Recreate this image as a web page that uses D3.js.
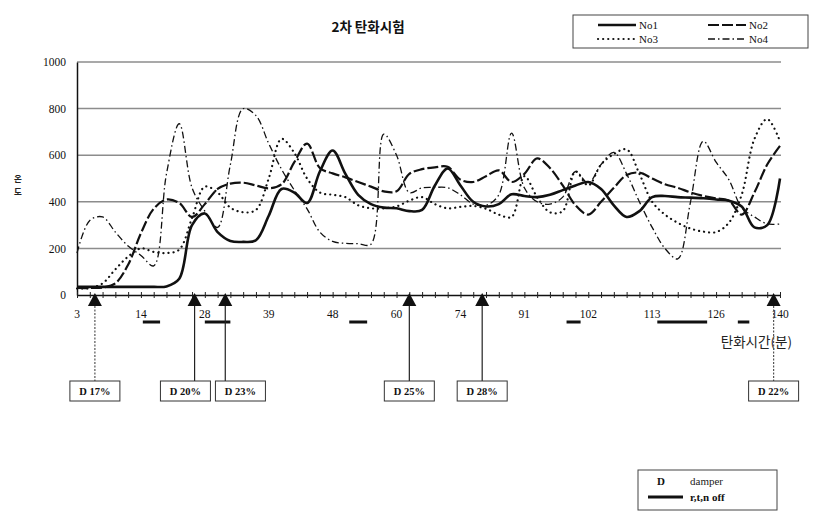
<!DOCTYPE html>
<html>
<head>
<meta charset="utf-8">
<script src="https://cdn.jsdelivr.net/npm/d3@7"></script>
<style>
  html, body { margin: 0; padding: 0; background: #fff; }
  svg { display: block; }
  .serif { font-family: "Liberation Serif", "DejaVu Serif", serif; }
  .kr { font-family: "Noto Sans CJK KR", "Noto Sans", sans-serif; }
</style>
</head>
<body>
<svg id="chart" width="834" height="529"></svg>
<script>
// Readings are taken at irregular minutes; the axis labels every 5th reading.
const tickLabels = [3, 14, 28, 39, 48, 60, 74, 91, 102, 113, 126, 140];
const labelEvery = 5;

// Temperature readings per thermocouple (one value per reading)
const no1 = [35,35,35,35,35,35,35,37,70,300,350,270,232,228,235,340,455,440,395,530,
             620,520,430,390,375,372,360,365,470,543,470,400,380,390,432,425,420,430,450,470,
             485,455,385,335,360,420,425,420,418,415,410,405,380,290,300,500];
const no2 = [30,30,32,50,130,265,370,410,395,335,390,455,478,482,470,458,475,570,650,545,
             522,505,485,465,445,445,520,540,548,550,495,485,510,535,485,520,586,545,470,385,
             345,400,460,515,525,500,475,460,440,425,415,405,345,440,560,640];
const no3 = [28,30,50,110,165,200,185,180,195,330,465,440,375,355,365,500,670,610,500,440,
             430,420,385,372,372,380,405,420,390,372,378,382,370,345,335,510,420,355,360,530,
             470,560,605,625,520,400,345,310,285,272,270,310,430,670,755,660];
const no4 = [180,320,335,270,210,170,125,520,735,460,360,290,560,800,770,650,540,450,370,270,
             230,222,220,218,690,600,440,460,462,460,430,390,385,430,695,460,400,390,420,530,
             480,560,612,520,400,290,200,155,400,660,570,495,375,335,305,305];

// Damper changes (reading position) and their settings
const damperAt = [1.4, 9.2, 11.6, 26, 31.7, 54.5];
const damperPct = ["17%", "20%", "23%", "25%", "28%", "22%"];
const damperDashed = [true, false, false, false, false, true];

// Periods with r, t, n switched off (reading positions)
const offPeriods = [[5.15, 6.5], [10, 12], [21.3, 22.7], [38.3, 39.4], [45.4, 49.3], [51.7, 52.6]];

const yTicks = [0, 200, 400, 600, 800, 1000];

const seriesNames = ["No1", "No2", "No3", "No4"];
const seriesData = [no1, no2, no3, no4];
const seriesStyle = [
  { width: 2.6, dash: null, cap: "butt" },
  { width: 2.2, dash: "11,3", cap: "butt" },
  { width: 2.2, dash: "0.1,5", cap: "round" },
  { width: 1.3, dash: "7,3,1.5,3", cap: "butt" }
];

const svg = d3.select("#chart");
svg.append("rect").attr("width", 834).attr("height", 529).attr("fill", "#fff");

const nPts = no1.length;
const x = d3.scaleLinear().domain([0, nPts - 1]).range([77, 780]);
const y = d3.scaleLinear().domain([0, 1000]).range([295, 62]);

// Title
svg.append("text").attr("class", "kr")
  .attr("x", 368).attr("y", 32).attr("text-anchor", "middle")
  .attr("font-size", 13.5).attr("font-weight", "bold").attr("fill", "#111")
  .text("2차 탄화시험");

// Horizontal gridlines
svg.append("g").selectAll("line").data(yTicks.filter(d => d > 0)).join("line")
  .attr("x1", 77).attr("x2", 781)
  .attr("y1", d => y(d)).attr("y2", d => y(d))
  .attr("stroke", "#8c8c8c").attr("stroke-width", 1.5);

// Y axis
const yAxis = svg.append("g").attr("transform", "translate(77,0)")
  .call(d3.axisLeft(y).tickValues(yTicks).tickFormat(d3.format("d")).tickSize(0).tickPadding(11));
yAxis.select(".domain").attr("stroke", "#111").attr("stroke-width", 1.5);
yAxis.selectAll("text").attr("class", "serif").attr("font-size", 11.5).attr("fill", "#111");

// Y axis title, stacked vertically
svg.append("text").attr("class", "kr")
  .attr("x", 18).attr("y", 182).attr("text-anchor", "middle")
  .attr("font-size", 8.5).attr("font-weight", "bold").attr("fill", "#222").text("온");
svg.append("text").attr("class", "kr")
  .attr("x", 18).attr("y", 195).attr("text-anchor", "middle")
  .attr("font-size", 8.5).attr("font-weight", "bold").attr("fill", "#222").text("도");

// X axis: a tick at every reading, a label at every 5th
const xAxis = svg.append("g").attr("transform", `translate(0,${y(0)})`)
  .call(d3.axisBottom(x).tickValues(d3.range(nPts)).tickSizeInner(4).tickSizeOuter(0)
    .tickFormat(() => ""));
xAxis.select(".domain").attr("stroke", "#111").attr("stroke-width", 1.5);
xAxis.selectAll(".tick line").attr("y1", -3).attr("y2", 3).attr("stroke", "#222");

svg.append("g").selectAll("text").data(tickLabels).join("text")
  .attr("class", "serif")
  .attr("x", (d, i) => x(i * labelEvery)).attr("y", 318)
  .attr("text-anchor", "middle").attr("font-size", 11.5).attr("fill", "#111")
  .text(d => d);

svg.append("text").attr("class", "kr")
  .attr("x", 792).attr("y", 347).attr("text-anchor", "end")
  .attr("font-size", 13.5).attr("fill", "#222").text("탄화시간(분)");

// Series lines
const line = d3.line().x((d, i) => x(i)).y(d => y(d)).curve(d3.curveCatmullRom.alpha(0.5));
const lines = svg.append("g").attr("fill", "none");
seriesData.forEach((data, k) => {
  const st = seriesStyle[k];
  lines.append("path").datum(data)
    .attr("d", line)
    .attr("stroke", "#111")
    .attr("stroke-width", st.width)
    .attr("stroke-dasharray", st.dash)
    .attr("stroke-linecap", st.cap)
    .attr("stroke-linejoin", "round");
});

// r,t,n off periods
svg.append("g").selectAll("line").data(offPeriods).join("line")
  .attr("x1", d => x(d[0])).attr("x2", d => x(d[1]))
  .attr("y1", 322).attr("y2", 322)
  .attr("stroke", "#111").attr("stroke-width", 3);

// Damper markers with label boxes
const boxW = 50, boxH = 20, boxY = 381, gap = 5;
const centers = damperAt.map(d => x(d));
for (let i = 1; i < centers.length; i++) {
  if (centers[i] - centers[i - 1] < boxW + gap) {
    const mid = (centers[i] + centers[i - 1]) / 2 + 3;
    centers[i - 1] = mid - (boxW + gap) / 2;
    centers[i] = mid + (boxW + gap) / 2;
  }
}
const dmp = svg.append("g");
damperAt.forEach((d, i) => {
  const mx = x(d);
  dmp.append("path")
    .attr("d", `M${mx},293 L${mx + 7},306 L${mx - 7},306 Z`)
    .attr("fill", "#111");
  dmp.append("line")
    .attr("x1", mx).attr("x2", mx).attr("y1", 306).attr("y2", boxY)
    .attr("stroke", damperDashed[i] ? "#555" : "#222")
    .attr("stroke-width", 1.2)
    .attr("stroke-dasharray", damperDashed[i] ? "2,1.5" : null);
  dmp.append("rect")
    .attr("x", centers[i] - boxW / 2).attr("y", boxY)
    .attr("width", boxW).attr("height", boxH)
    .attr("fill", "#fff").attr("stroke", "#333").attr("stroke-width", 1);
  dmp.append("text").attr("class", "serif")
    .attr("x", centers[i]).attr("y", boxY + 14)
    .attr("text-anchor", "middle").attr("font-size", 10.5).attr("font-weight", "bold")
    .attr("fill", "#111")
    .text("D " + damperPct[i]);
});

// Series legend
const lg = svg.append("g");
lg.append("rect").attr("x", 573).attr("y", 15).attr("width", 235).attr("height", 33)
  .attr("fill", "#fff").attr("stroke", "#444").attr("stroke-width", 1);
const legPos = [[598, 25], [708, 25], [598, 39], [708, 39]];
seriesNames.forEach((name, k) => {
  const [lx, ly] = legPos[k];
  const st = seriesStyle[k];
  lg.append("line").attr("x1", lx).attr("x2", lx + 38).attr("y1", ly).attr("y2", ly)
    .attr("stroke", "#111").attr("stroke-width", st.width)
    .attr("stroke-dasharray", st.dash).attr("stroke-linecap", st.cap);
  lg.append("text").attr("class", "serif")
    .attr("x", lx + 41).attr("y", ly + 4)
    .attr("font-size", 11).attr("fill", "#111").text(name);
});

// Symbol legend
const sl = svg.append("g");
sl.append("rect").attr("x", 638).attr("y", 470).attr("width", 139).attr("height", 40)
  .attr("fill", "#fff").attr("stroke", "#444").attr("stroke-width", 1);
sl.append("text").attr("class", "serif").attr("x", 657).attr("y", 485)
  .attr("font-size", 11).attr("font-weight", "bold").attr("fill", "#111").text("D");
sl.append("text").attr("class", "serif").attr("x", 690).attr("y", 485)
  .attr("font-size", 11).attr("fill", "#222").text("damper");
sl.append("line").attr("x1", 648).attr("x2", 683).attr("y1", 497).attr("y2", 497)
  .attr("stroke", "#111").attr("stroke-width", 3);
sl.append("text").attr("class", "serif").attr("x", 690).attr("y", 501)
  .attr("font-size", 11).attr("font-weight", "bold").attr("fill", "#111").text("r,t,n off");
</script>
</body>
</html>
